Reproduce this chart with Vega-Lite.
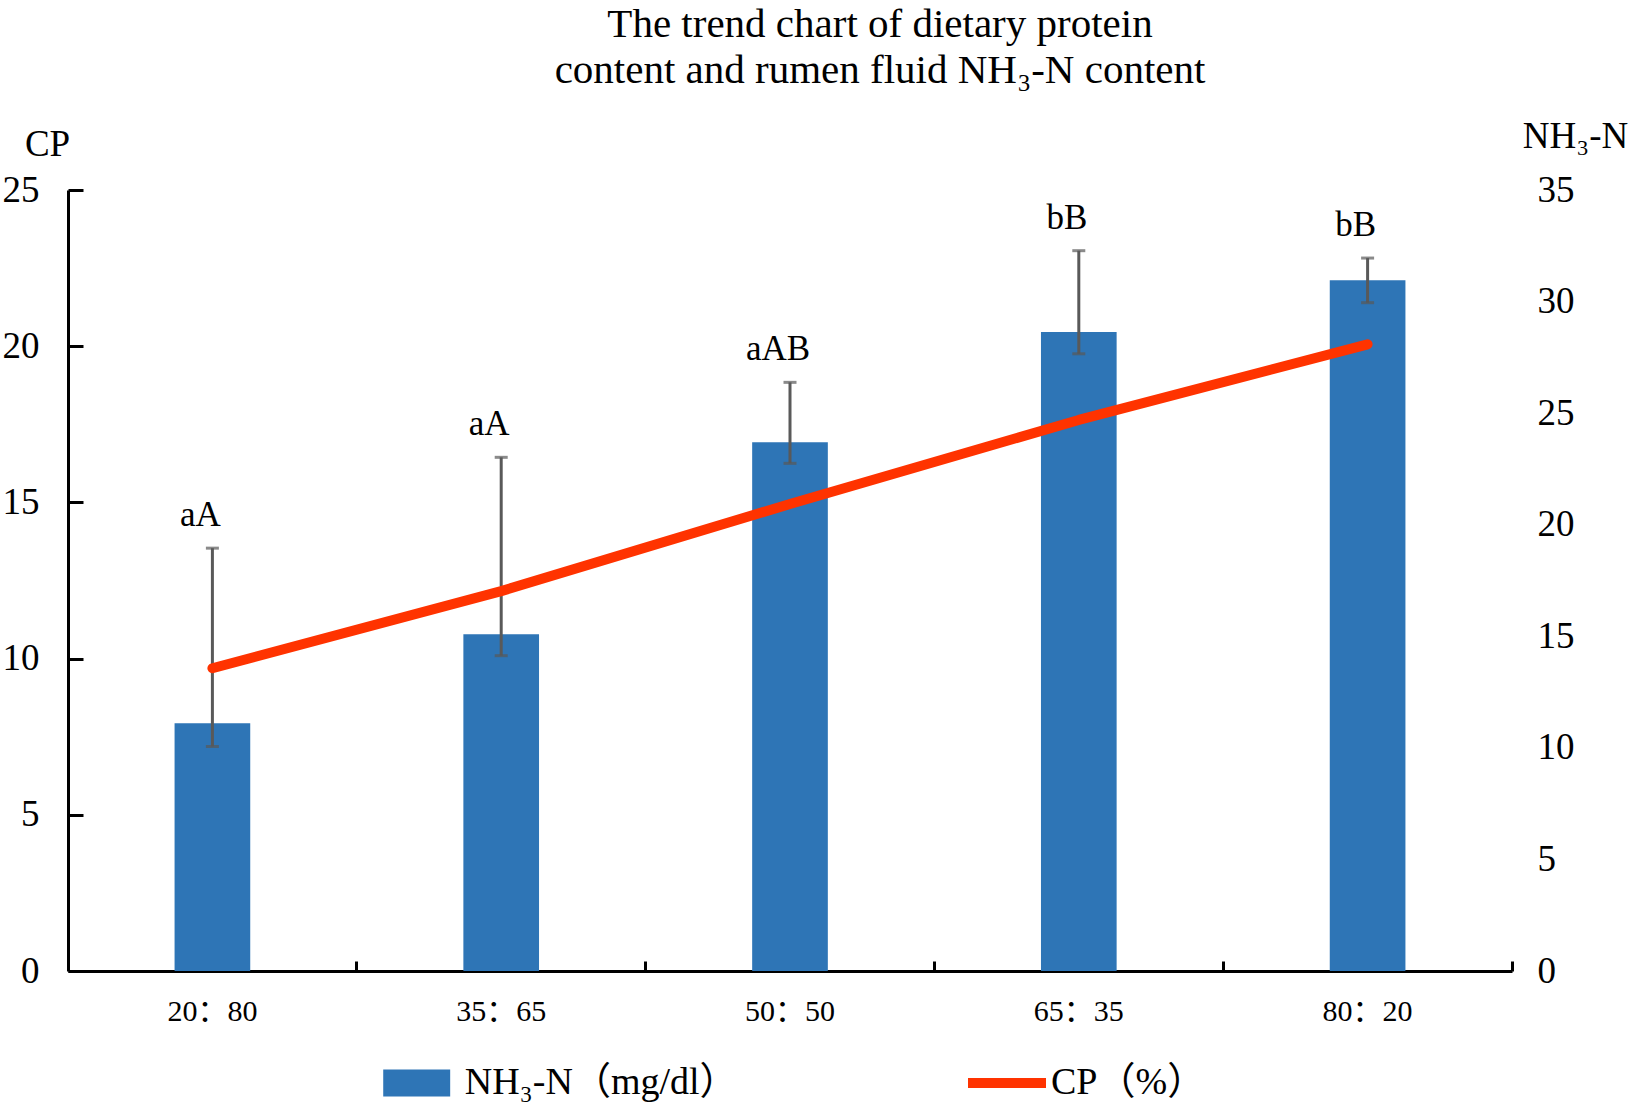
{
  "$schema": "https://vega.github.io/schema/vega-lite/v6.json",
  "width": 1444,
  "height": 781,
  "autosize": {"type": "none"},
  "padding": {"left": 68, "top": 190, "right": 123, "bottom": 138},
  "background": "white",
  "config": {
    "font": "Liberation Serif, Noto Sans CJK SC",
    "view": {"stroke": null},
    "axis": {"labelColor": "black", "titleColor": "black", "titleFontWeight": "normal", "labelFlush": false, "labelOverlap": false, "grid": false}
  },
  "title": {
    "text": ["The trend chart of dietary protein", "content and rumen fluid NH₃-N content"],
    "font": "Liberation Serif",
    "fontSize": 41,
    "fontWeight": "normal",
    "color": "black",
    "anchor": "middle",
    "frame": "group",
    "dx": 90,
    "lineHeight": 46,
    "offset": 25
  },
  "data": {
    "values": [
      {"ratio": "20：80", "cp": 9.69, "nh3": 11.1, "lo": 10.06, "hi": 18.95, "sig": "aA"},
      {"ratio": "35：65", "cp": 12.16, "nh3": 15.09, "lo": 14.13, "hi": 23.02, "sig": "aA"},
      {"ratio": "50：50", "cp": 14.95, "nh3": 23.69, "lo": 22.75, "hi": 26.38, "sig": "aAB"},
      {"ratio": "65：35", "cp": 17.64, "nh3": 28.64, "lo": 27.66, "hi": 32.28, "sig": "bB"},
      {"ratio": "80：20", "cp": 20.06, "nh3": 30.95, "lo": 29.95, "hi": 31.95, "sig": "bB"}
    ]
  },
  "encoding": {
    "x": {
      "field": "ratio",
      "type": "nominal",
      "sort": null,
      "scale": {"paddingInner": 0, "paddingOuter": 0},
      "axis": {
        "title": null,
        "bandPosition": 1,
        "tickSize": -10,
        "tickWidth": 3,
        "tickColor": "black",
        "domainColor": "black",
        "domainWidth": 3,
        "labelFontSize": 30,
        "labelPadding": 35,
        "labelAngle": 0
      }
    }
  },
  "layer": [
    {
      "layer": [
        {
          "mark": {"type": "bar", "width": {"band": 0.262}},
          "encoding": {
            "y": {
              "field": "nh3",
              "type": "quantitative",
              "scale": {"domain": [0, 35], "nice": false},
              "axis": {
                "orient": "right",
                "title": "NH₃-N",
                "titleAngle": 0,
                "titleX": 63,
                "titleY": -43,
                "titleAlign": "center",
                "titleBaseline": "alphabetic",
                "titleFontSize": 37,
                "domain": false,
                "ticks": false,
                "labelPadding": 25,
                "labelFontSize": 37,
                "values": [0, 5, 10, 15, 20, 25, 30, 35]
              }
            },
            "color": {
              "datum": "NH₃-N（mg/dl）",
              "scale": {"range": ["#2E75B6"]},
              "legend": {
                "orient": "none",
                "legendX": 321.7,
                "legendY": 866,
                "title": null,
                "padding": 0,
                "symbolType": "M-1.24,-0.5H1.24V0.5H-1.24Z",
                "symbolSize": 2916,
                "symbolStrokeWidth": 0,
                "labelFontSize": 38,
                "labelColor": "black",
                "labelOffset": 21,
                "labelLimit": 0
              }
            }
          }
        },
        {
          "mark": {"type": "rule", "color": "#595959", "strokeWidth": 3},
          "encoding": {
            "y": {"field": "lo", "type": "quantitative"},
            "y2": {"field": "hi"}
          }
        },
        {
          "mark": {"type": "tick", "orient": "horizontal", "color": "#595959", "size": 13, "thickness": 3},
          "encoding": {"y": {"field": "lo", "type": "quantitative"}}
        },
        {
          "mark": {"type": "tick", "orient": "horizontal", "color": "#595959", "size": 13, "thickness": 3},
          "encoding": {"y": {"field": "hi", "type": "quantitative"}}
        },
        {
          "mark": {"type": "text", "font": "Liberation Serif", "fontSize": 35, "baseline": "alphabetic", "dy": -22, "dx": -12, "color": "black"},
          "encoding": {
            "y": {"field": "hi", "type": "quantitative"},
            "text": {"field": "sig"}
          }
        }
      ]
    },
    {
      "mark": {"type": "line", "strokeWidth": 10, "strokeCap": "round", "strokeJoin": "round"},
      "encoding": {
        "y": {
          "field": "cp",
          "type": "quantitative",
          "scale": {"domain": [0, 25], "nice": false},
          "axis": {
            "orient": "left",
            "title": "CP",
            "titleAngle": 0,
            "titleX": -21,
            "titleY": -35,
            "titleAlign": "center",
            "titleBaseline": "alphabetic",
            "titleFontSize": 37,
            "values": [0, 5, 10, 15, 20, 25],
            "tickSize": -15,
            "tickWidth": 3,
            "tickColor": "black",
            "domainWidth": 3,
            "domainColor": "black",
            "labelFontSize": 37,
            "labelPadding": 44
          }
        },
        "stroke": {
          "datum": "CP（%）",
          "scale": {"range": ["#FF3300"]},
          "legend": {
            "orient": "none",
            "legendX": 895,
            "legendY": 849,
            "title": null,
            "padding": 0,
            "symbolType": "stroke",
            "symbolSize": 6084,
            "symbolStrokeWidth": 10,
            "labelFontSize": 38,
            "labelColor": "black",
            "labelOffset": 0,
            "labelLimit": 0
          }
        }
      }
    }
  ],
  "resolve": {"scale": {"y": "independent"}}
}
